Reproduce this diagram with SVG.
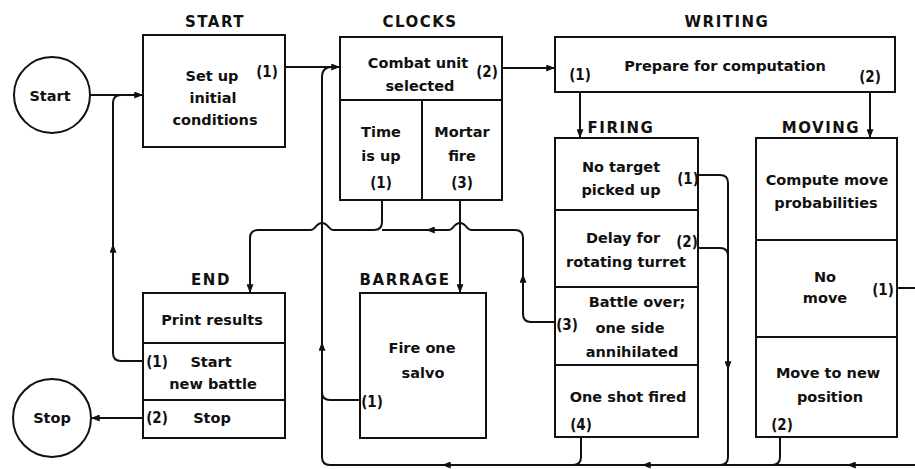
<svg xmlns="http://www.w3.org/2000/svg" width="915" height="469" viewBox="0 0 915 469">
<defs>
<style>
.b{fill:none;stroke:#111;stroke-width:2}
.c{fill:none;stroke:#111;stroke-width:2;stroke-linejoin:round}
.t{font-family:"DejaVu Sans",sans-serif;font-weight:bold;font-size:14.5px;text-anchor:middle;fill:#111}
.n{font-family:"DejaVu Sans Condensed","DejaVu Sans",sans-serif;font-weight:bold;font-size:15px;text-anchor:middle;fill:#111}
.h{font-family:"DejaVu Sans",sans-serif;font-weight:bold;font-size:15px;text-anchor:middle;fill:#111;letter-spacing:1.5px}
</style>
<marker id="a" viewBox="0 0 10 8" refX="10" refY="4" markerWidth="10" markerHeight="7" markerUnits="userSpaceOnUse" orient="auto">
<path d="M0,0 L10,4 L0,8 Z" fill="#111"/>
</marker>
</defs>
<rect width="915" height="469" fill="#fff"/>

<g id="connectors">
<path class="c" d="M90,95 H143" marker-end="url(#a)"/>
<path class="c" d="M143,361 H121 Q113,361 113,353 V103 Q113,95 121,95"/>
<path class="c" d="M113,252 V244" marker-end="url(#a)"/>
<path class="c" d="M285,67 H340" marker-end="url(#a)"/>
<path class="c" d="M915,465 H330 Q322,465 322,457 V77 Q322,67 332,67"/>
<path class="c" d="M322,350 V342" marker-end="url(#a)"/>
<path class="c" d="M452,465 H442" marker-end="url(#a)"/>
<path class="c" d="M652,465 H642" marker-end="url(#a)"/>
<path class="c" d="M857,465 H847" marker-end="url(#a)"/>
<path class="c" d="M581,437 V457 Q581,465 573,465"/>
<path class="c" d="M698,175 H720 Q728,175 728,183 V457 Q728,465 720,465"/>
<path class="c" d="M698,248 H720 Q728,248 728,256"/>
<path class="c" d="M728,362 V370" marker-end="url(#a)"/>
<path class="c" d="M780,437 V457 Q780,465 772,465"/>
<path class="c" d="M897,288 H915"/>
<path class="c" d="M502,68 H555" marker-end="url(#a)"/>
<path class="c" d="M580,92 V138" marker-end="url(#a)"/>
<path class="c" d="M870,92 V138" marker-end="url(#a)"/>
<path class="c" d="M382,200 V222 Q382,230 374,230 H333 C329,230 328,223 322,223 C316,223 315,230 311,230 H258 Q250,230 250,238 V293" marker-end="url(#a)"/>
<path class="c" d="M555,322 H531 Q523,322 523,314 V238 Q523,230 515,230 H471 C467,230 466,223 460,223 C454,223 453,230 449,230 H382"/>
<path class="c" d="M523,282 V274" marker-end="url(#a)"/>
<path class="c" d="M436,230 H426" marker-end="url(#a)"/>
<path class="c" d="M460,200 V293" marker-end="url(#a)"/>
<path class="c" d="M360,400 H330 Q322,400 322,392"/>
<path class="c" d="M143,418 H91" marker-end="url(#a)"/>
</g>

<g id="start-circle">
<circle class="b" cx="52" cy="95" r="38"/>
<text class="t" x="50" y="101">Start</text>
</g>

<g id="stop-circle">
<circle class="b" cx="52" cy="418" r="39"/>
<text class="t" x="52" y="423">Stop</text>
</g>

<g id="start">
<text class="h" x="215" y="27">START</text>
<rect class="b" x="143" y="35" width="142" height="112"/>
<text class="t" x="212" y="81">Set up</text>
<text class="t" x="213" y="103">initial</text>
<text class="t" x="215" y="125">conditions</text>
<text class="n" x="267" y="77">(1)</text>
</g>

<g id="clocks">
<text class="h" x="420" y="27">CLOCKS</text>
<rect class="b" x="340" y="37" width="162" height="163"/>
<line class="b" x1="340" y1="100" x2="502" y2="100"/>
<line class="b" x1="422" y1="100" x2="422" y2="200"/>
<text class="t" x="418" y="68">Combat unit</text>
<text class="t" x="420" y="91">selected</text>
<text class="n" x="487" y="77">(2)</text>
<text class="t" x="381" y="137">Time</text>
<text class="t" x="381" y="161">is up</text>
<text class="n" x="381" y="188">(1)</text>
<text class="t" x="462" y="137">Mortar</text>
<text class="t" x="462" y="161">fire</text>
<text class="n" x="462" y="188">(3)</text>
</g>

<g id="writing">
<text class="h" x="727" y="27">WRITING</text>
<rect class="b" x="555" y="37" width="340" height="55"/>
<text class="t" x="725" y="71">Prepare for computation</text>
<text class="n" x="580" y="80">(1)</text>
<text class="n" x="870" y="82">(2)</text>
</g>

<g id="firing">
<text class="h" x="621" y="133">FIRING</text>
<rect class="b" x="555" y="138" width="143" height="299"/>
<line class="b" x1="555" y1="210" x2="698" y2="210"/>
<line class="b" x1="555" y1="287" x2="698" y2="287"/>
<line class="b" x1="555" y1="365" x2="698" y2="365"/>
<text class="t" x="621" y="172">No target</text>
<text class="t" x="621" y="195">picked up</text>
<text class="n" x="688" y="184">(1)</text>
<text class="t" x="623" y="243">Delay for</text>
<text class="t" x="626" y="267">rotating turret</text>
<text class="n" x="687" y="247">(2)</text>
<text class="t" x="637" y="307">Battle over;</text>
<text class="t" x="630" y="333">one side</text>
<text class="t" x="632" y="357">annihilated</text>
<text class="n" x="567" y="330">(3)</text>
<text class="t" x="628" y="402">One shot fired</text>
<text class="n" x="581" y="430">(4)</text>
</g>

<g id="moving">
<text class="h" x="821" y="133">MOVING</text>
<rect class="b" x="756" y="138" width="141" height="299"/>
<line class="b" x1="756" y1="240" x2="897" y2="240"/>
<line class="b" x1="756" y1="337" x2="897" y2="337"/>
<text class="t" x="827" y="185">Compute move</text>
<text class="t" x="826" y="208">probabilities</text>
<text class="t" x="825" y="282">No</text>
<text class="t" x="825" y="303">move</text>
<text class="n" x="883" y="295">(1)</text>
<text class="t" x="828" y="378">Move to new</text>
<text class="t" x="830" y="402">position</text>
<text class="n" x="782" y="430">(2)</text>
</g>

<g id="barrage">
<text class="h" x="405" y="285">BARRAGE</text>
<rect class="b" x="360" y="293" width="126" height="145"/>
<text class="t" x="422" y="353">Fire one</text>
<text class="t" x="423" y="378">salvo</text>
<text class="n" x="372" y="407">(1)</text>
</g>

<g id="end">
<text class="h" x="211" y="285">END</text>
<rect class="b" x="143" y="293" width="142" height="145"/>
<line class="b" x1="143" y1="343" x2="285" y2="343"/>
<line class="b" x1="143" y1="400" x2="285" y2="400"/>
<text class="t" x="212" y="325">Print results</text>
<text class="n" x="157" y="367">(1)</text>
<text class="t" x="211" y="367">Start</text>
<text class="t" x="213" y="389">new battle</text>
<text class="n" x="157" y="423">(2)</text>
<text class="t" x="212" y="423">Stop</text>
</g>
</svg>
